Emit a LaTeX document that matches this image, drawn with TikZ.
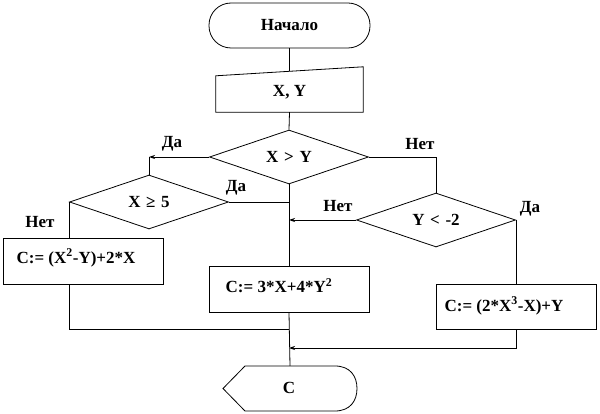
\documentclass[tikz,border=0pt]{standalone}
\usepackage{fontspec}
\setmainfont{Liberation Serif}
\usetikzlibrary{arrows.meta,shapes.geometric,calc}
\tikzset{
  every picture/.style={x=1pt,y=-1pt},
  ln/.style={line width=0.8pt},
  arr/.style={ln,-{Stealth[length=6pt,width=4pt]}},
  txt/.style={font=\fontsize{17}{19}\selectfont\bfseries,inner sep=0pt},
  box/.style={ln,draw,rectangle,inner sep=0pt,minimum width=160pt,minimum height=46pt},
  dec/.style={ln,draw,diamond,inner sep=0pt,minimum width=159pt,minimum height=54pt,aspect=3,font=\fontsize{17}{19}\selectfont\bfseries},
  term/.style={ln,draw,rectangle,rounded corners=22pt,minimum width=161pt,minimum height=45pt,inner sep=0pt,font=\fontsize{17}{19}\selectfont\bfseries},
  ghost/.style={rectangle,inner sep=0pt},
}
\begin{document}
\begin{tikzpicture}
\useasboundingbox (0,0) rectangle (600,414);
% start
\node[term] (start) at (289.5,25.5) {Начало};
% input
\node[ghost,minimum width=147pt,minimum height=45pt] (in) at (289.5,89.5) {};
\draw[ln] (in.south west) -- (in.south east) -- (in.north east) -- ($(in.north west)+(0,9)$) -- cycle;
\node[txt] (intext) at (289.5,92) {X, Y};
\coordinate (intop) at (289.5,71.5);
% decisions
\node[dec] (d1) at (289,157) {X\,\,>\,\,Y};
\node[dec] (d2) at (149,202) {X\,\,≥\,\,5};
\node[dec] (d3) at (436,220) {Y\,\,<\,\,-2};
% boxes
\node[box] (b1) at (83,261) {};
\node[txt] (t1) at (76,258) {C:= (X\textsuperscript{2}-Y)+2*X};
\node[box] (b2) at (289,289) {};
\node[txt] (t2) at (279,286) {C:= 3*X+4*Y\textsuperscript{2}};
\node[box,minimum height=45pt] (b3) at (516,306.5) {};
\node[txt] (t3) at (504,306) {C:= (2*X\textsuperscript{3}-X)+Y};
% output
\node[ghost,minimum width=134pt,minimum height=45pt] (out) at (290,388.5) {};
\draw[ln] (245,366) -- (335,366) .. controls (350,366) and (357,376) .. (357,388.5)
  .. controls (357,401) and (350,411) .. (335,411) -- (245,411) -- (223,388.5) -- cycle;
\node[txt] (outtext) at (289,388) {C};
% merge points
\coordinate (m1) at (289,329);
\coordinate (m2) at (289,348);
% connectors
\draw[ln] (start.south) -- (intop);
\draw[ln] (in.south) -- (d1.north);
\draw[arr] (d1.west) -- (d1.west -| d2.north);
\draw[ln] (d1.west -| d2.north) -- (d2.north);
\draw[ln] (d1.east) -| (d3.north);
\draw[ln] (d1.south) -- (b2.north);
\draw[ln] (d2.east) -- (d2.east -| d1.south);
\draw[ln] (d2.west) -- (d2.west |- b1.north);
\draw[arr] (d3.west) -- (d3.west -| d1.south);
\draw[ln] (d3.east) -- (d3.east |- b3.north);
\draw[ln] (d2.west |- b1.south) |- (m1);
\draw[ln] (b2.south) -- (out.north);
\draw[arr] (b3.south) |- (m2);
% labels
\node[txt] (l1) at (172,144) {Да};
\node[txt] (l2) at (236,188) {Да};
\node[txt] (l3) at (40,222) {Нет};
\node[txt] (l4) at (420,144) {Нет};
\node[txt] (l5) at (338,206) {Нет};
\node[txt] (l6) at (530,209) {Да};
\end{tikzpicture}
\end{document}
